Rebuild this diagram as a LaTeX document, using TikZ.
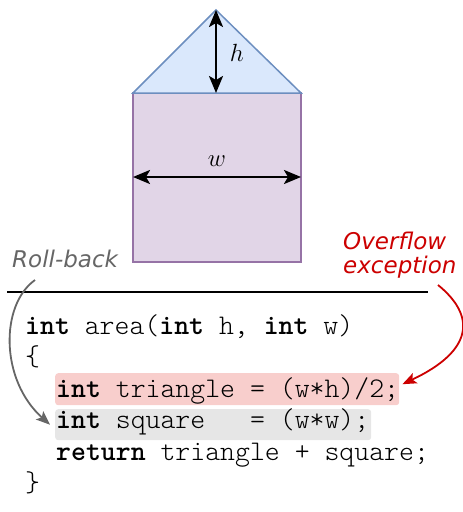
\documentclass[tikz,border=0pt]{standalone}
\usepackage{fontspec}
\usetikzlibrary{arrows.meta}
\newfontfamily\labelfont{DejaVu Sans}
\newfontfamily\codefont{Latin Modern Mono Light}
\definecolor{triFill}{HTML}{DAE8FC}
\definecolor{triLine}{HTML}{6C8EBF}
\definecolor{sqFill}{HTML}{E1D5E7}
\definecolor{sqLine}{HTML}{9673A6}
\definecolor{errRed}{HTML}{CC0000}
\definecolor{errFill}{HTML}{F8CECC}
\definecolor{rbGray}{HTML}{666666}
\definecolor{rbFill}{HTML}{E6E6E6}
\tikzset{
  shapeline/.style={line width=1.5pt, line join=miter},
  dim/.style={line width=2.5pt, {Stealth[length=17pt,width=14pt,inset=4pt]}-{Stealth[length=17pt,width=14pt,inset=4pt]}},
  dimlabel/.style={inner sep=0pt, font=\fontsize{24}{28}\selectfont},
  code/.style={inner sep=0pt, anchor=base west, font=\codefont\fontsize{28.4}{32}\selectfont},
  hlbox/.style={rounded corners=3pt, anchor=north west, inner sep=0pt},
  sidelabel/.style={inner sep=0pt, font=\labelfont\itshape\fontsize{23}{24}\selectfont},
  flowarrow/.style={line width=1.8pt, -{Stealth[length=14pt,width=11pt,inset=3pt]}},
}
\begin{document}
\begin{tikzpicture}[x=1pt,y=-1pt]
\useasboundingbox (0,0) rectangle (463,512);

% square and roof
\draw[shapeline, draw=sqLine, fill=sqFill] (133,93) rectangle (301,262);
\draw[shapeline, draw=triLine, fill=triFill] (133,93) -- (216,10) -- (301,93) -- cycle;

% dimension arrows
\coordinate (apex) at (216,10);
\coordinate (basemid) at (216,93);
\coordinate (wleft) at (133,177);
\coordinate (wright) at (301,177);
\draw[dim] (apex) -- (basemid);
\draw[dim] (wleft) -- (wright);
\node[dimlabel] (hlab) at (237,53) {$h$};
\node[dimlabel] (wlab) at (217,161) {$w$};

% separator
\coordinate (sepL) at (7,292);
\coordinate (sepR) at (428,292);
\draw[line width=2pt] (sepL) -- (sepR);

% highlighted statements
\node[hlbox, fill=errFill, minimum width=344pt, minimum height=32pt] (tri) at (55,373) {};
\node[hlbox, fill=rbFill, minimum width=316pt, minimum height=31pt] (sq) at (55,409) {};

% code
\node[code] (l1) at (25,334) {\textbf{int} area(\textbf{int} h, \textbf{int} w)};
\node[code] (l2) at (25,365.5) {\{};
\node[code] (l3) at (56,397) {\textbf{int} triangle = (w*h)/2;};
\node[code] (l4) at (56,428.5) {\textbf{int} square\ \ \ = (w*w);};
\node[code] (l5) at (56,460) {\textbf{return} triangle + square;};
\node[code] (l6) at (25,491.5) {\}};

% annotations
\node[sidelabel, text=rbGray, anchor=base west] (rb) at (12,267) {Roll-back};
\node[sidelabel, text=errRed, anchor=north west, align=left] (ov) at (343,232) {Overflow\\exception};

\coordinate (rbstart) at (35,280);
\coordinate (ovstart) at (438,285);
\draw[flowarrow, draw=rbGray] (rbstart) .. controls (0,305) and (0,380) .. ([xshift=-5pt]sq.west);
\draw[flowarrow, draw=errRed] (ovstart) .. controls (475,315) and (475,350) .. ([xshift=3pt,yshift=5pt]tri.east);
\end{tikzpicture}
\end{document}
